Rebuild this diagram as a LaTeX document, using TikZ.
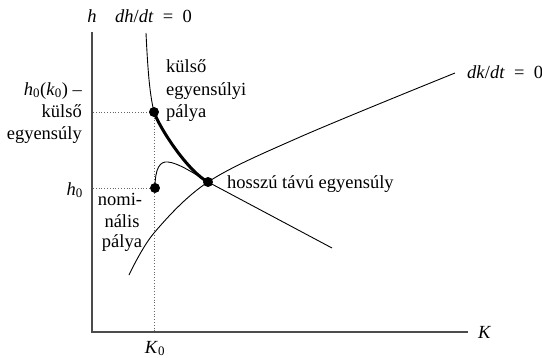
\documentclass[tikz,border=0pt]{standalone}
\usepackage{fontspec}
\setmainfont{Liberation Serif}
\newcommand{\eqsp}{\hspace{0.5em}=\hspace{0.5em}}
\begin{document}
\begin{tikzpicture}[x=1pt,y=-1pt,
  lbl/.style={font=\fontsize{18.5}{22}\selectfont, inner sep=0pt},
  axisline/.style={draw=black!70, line width=1.6pt},
  curve/.style={draw=black, line width=0.9pt},
  thickcurve/.style={draw=black, line width=3pt, line cap=round},
  guide/.style={draw=black!60, dotted, line width=0.8pt},
  dot/.style={circle, fill=black, inner sep=0pt, minimum size=10pt}]
\useasboundingbox (0,0) rectangle (542,357);
% axes
\coordinate (O) at (92,332);
\coordinate (ytop) at (92,32);
\coordinate (xend) at (468,332);
\draw[axisline] (ytop) -- (O) -- (xend);
% key points
\coordinate (U) at (154,112);
\coordinate (L) at (155,188);
\coordinate (E) at (208,182);
\coordinate (yU) at (93,112);
\coordinate (yL) at (93,188);
\coordinate (xK) at (154,331);
% dotted guides
\draw[guide] (yU) -- (U);
\draw[guide] (yL) -- (L);
\draw[guide] (U) -- (xK);
% dh/dt = 0
\coordinate (hS) at (146,33);
\coordinate (hE) at (332,248);
\draw[curve] (hS) .. controls (148,75) and (150,95) .. (U);
\draw[thickcurve] (U) .. controls (160,129) and (188,171.4) .. (E);
\draw[curve] (E) -- (hE);
% dk/dt = 0
\draw[curve] plot[smooth, tension=0.55] coordinates {(129,275) (154,233) (208,182) (300,137) (455,73)};
% nominal path
\draw[curve] (L) .. controls (155,168) and (160,161) .. (168,162) .. controls (178,163) and (192,172) .. (E);
% dots
\node[dot] (dU) at (U) {};
\node[dot] (dL) at (L) {};
\node[dot] (dE) at (E) {};
% labels
\node[lbl, anchor=base] (th) at (92,22) {\textit{h}};
\node[lbl, anchor=base west] (tdh) at (115,22) {\textit{dh}/\textit{dt}\eqsp0};
\node[lbl, anchor=base east] (tl1) at (82,95) {\textit{h}\textsubscript{0}(\textit{k}\textsubscript{0}) –};
\node[lbl, anchor=base east] (tl2) at (82,117) {külső};
\node[lbl, anchor=base east] (tl3) at (82,139) {egyensúly};
\node[lbl, anchor=base west] (tr1) at (166,72) {külső};
\node[lbl, anchor=base west] (tr2) at (166,95) {egyensúlyi};
\node[lbl, anchor=base west] (tr3) at (166,117) {pálya};
\node[lbl, anchor=base east] (th0) at (83,195) {\textit{h}\textsubscript{0}};
\node[lbl, anchor=base] (tn1) at (120,205) {nomi-};
\node[lbl, anchor=base] (tn2) at (122,227) {nális};
\node[lbl, anchor=base] (tn3) at (122,247) {pálya};
\node[lbl, anchor=base west] (teq) at (227,188) {hosszú távú egyensúly};
\node[lbl, anchor=base west] (tdk) at (467,78) {\textit{dk}/\textit{dt}\eqsp0};
\node[lbl, anchor=base west] (tK) at (478,338) {\textit{K}};
\node[lbl, anchor=base] (tK0) at (155,353) {\textit{K}\textsubscript{0}};
\end{tikzpicture}
\end{document}
